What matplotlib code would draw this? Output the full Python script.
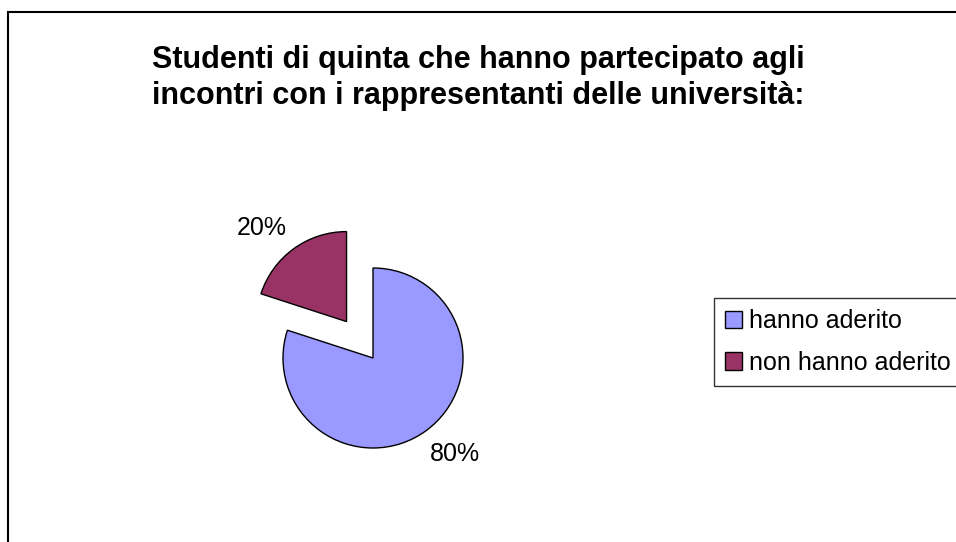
import numpy as np
import matplotlib.pyplot as plt
from matplotlib.patches import Rectangle

# data
categories = ['hanno aderito', 'non hanno aderito']
values = [80, 20]
colors = ['#9999FF', '#993366']
title = 'Studenti di quinta che hanno partecipato agli\nincontri con i rappresentanti delle università:'

plt.rcParams['font.family'] = ['Liberation Sans', 'DejaVu Sans']

W, H = 956, 542
fig = plt.figure(figsize=(W / 100, H / 100), dpi=100)

# outer chart border (runs off the right and bottom edges)
fig.patches.append(Rectangle((8 / W, -0.1), 1.2, 1 - 12 / H + 0.1,
                             transform=fig.transFigure, fill=False,
                             edgecolor='#000000', linewidth=1.5))

fig.text(0.5, 1 - 78 / H, title, ha='center', va='center',
         multialignment='center', fontsize=22, fontweight='bold',
         linespacing=1.3)

# pie axes: center at (373, 358) px, radius 90 px
cx, cy, r = 373, 358, 90
ax = fig.add_axes([(cx - 2 * r) / W, (H - cy - 2 * r) / H, 4 * r / W, 4 * r / H])
wedges, texts, autotexts = ax.pie(values, colors=colors, startangle=90,
                                  counterclock=False, explode=[0, 0.5],
                                  autopct='%1.0f%%', pctdistance=1.35,
                                  wedgeprops=dict(edgecolor='black', linewidth=1),
                                  textprops=dict(fontsize=18))
ax.set_xlim(-2, 2)
ax.set_ylim(-2, 2)
ax.set_aspect('equal')
ax.axis('off')

# nudge the labels a bit, as in the original
x, y = autotexts[0].get_position()
autotexts[0].set_position((x + 0.12, y + 0.03))
x, y = autotexts[1].get_position()
autotexts[1].set_position((x - 0.15, y - 0.055))

leg = fig.legend(wedges, categories, loc='upper left',
                 bbox_to_anchor=(714 / W, 1 - 298 / H),
                 fontsize=18, frameon=True, fancybox=False,
                 edgecolor='black', handlelength=0.68, handleheight=0.68,
                 handletextpad=0.28, borderpad=0.45, labelspacing=0.7,
                 borderaxespad=0)
leg.get_frame().set_linewidth(1)

fig.savefig('out.png', dpi=100)
